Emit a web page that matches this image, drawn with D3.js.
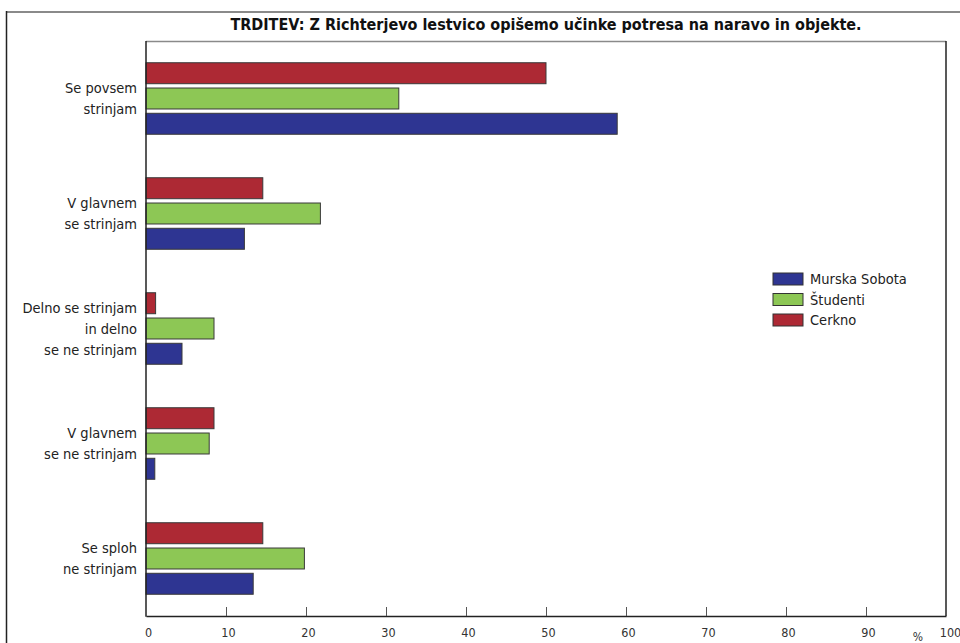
<!DOCTYPE html>
<html>
<head>
<meta charset="utf-8">
<script src="https://cdn.jsdelivr.net/npm/d3@7"></script>
<style>
  html, body { margin: 0; padding: 0; background: #fff; }
  svg { display: block; }
  text { font-family: "DejaVu Sans Condensed", "Liberation Sans Narrow", "Roboto", sans-serif; }
</style>
</head>
<body>
<script>
// Survey answers (top to bottom) and share of respondents, %
const categories = [
  ["Se povsem", "strinjam"],
  ["V glavnem", "se strinjam"],
  ["Delno se strinjam", "in delno", "se ne strinjam"],
  ["V glavnem", "se ne strinjam"],
  ["Se sploh", "ne strinjam"]
];
const seriesNames = ["Cerkno", "Študenti", "Murska Sobota"];
const cerkno       = [50.0, 14.6, 1.2, 8.5, 14.6];
const studenti     = [31.6, 21.8, 8.5, 7.9, 19.8];
const murskaSobota = [58.9, 12.3, 4.5, 1.1, 13.4];
const tickValues = [0, 10, 20, 30, 40, 50, 60, 70, 80, 90, 100];
const legendOrder = ["Murska Sobota", "Študenti", "Cerkno"];
const title = "TRDITEV: Z Richterjevo lestvico opišemo učinke potresa na naravo in objekte.";

const colors = { "Cerkno": "#ad2934", "Študenti": "#8dc755", "Murska Sobota": "#2e3592" };
const valuesBySeries = { "Cerkno": cerkno, "Študenti": studenti, "Murska Sobota": murskaSobota };

const W = 960, H = 643;
const plot = { left: 146, right: 946, top: 41, bottom: 616 };

const svg = d3.select("body").append("svg").attr("width", W).attr("height", H);

// outer frame
svg.append("line").attr("x1", 6).attr("x2", W).attr("y1", 12).attr("y2", 12)
  .attr("stroke", "#8a8a8a").attr("stroke-width", 2);
svg.append("line").attr("x1", 6.5).attr("x2", 6.5).attr("y1", 11).attr("y2", H)
  .attr("stroke", "#222").attr("stroke-width", 1.5);

svg.append("text").attr("x", 546).attr("y", 30).attr("text-anchor", "middle")
  .attr("font-size", 16).attr("font-weight", "bold").attr("fill", "#111")
  .text(title);

const x = d3.scaleLinear().domain([0, 100]).range([plot.left, plot.right]);
const idx = d3.range(categories.length);
const y0 = d3.scaleBand().domain(idx).range([plot.top, plot.bottom]).paddingInner(0).paddingOuter(0);
const y1 = d3.scaleBand().domain(seriesNames).range([0, y0.bandwidth()]).paddingInner(0.17).paddingOuter(0.86);

// plot frame
svg.append("line").attr("x1", plot.left).attr("x2", plot.right).attr("y1", plot.top + 0.5).attr("y2", plot.top + 0.5)
  .attr("stroke", "#8a8a8a").attr("stroke-width", 1.5);
svg.append("line").attr("x1", plot.right).attr("x2", plot.right).attr("y1", plot.top).attr("y2", plot.bottom)
  .attr("stroke", "#222").attr("stroke-width", 1.5);

// bars
const groups = svg.append("g").selectAll("g").data(idx).join("g")
  .attr("transform", i => `translate(0,${y0(i)})`);
groups.selectAll("rect")
  .data(i => seriesNames.map(s => ({ s, v: valuesBySeries[s][i] })))
  .join("rect")
  .attr("x", x(0))
  .attr("y", d => y1(d.s))
  .attr("width", d => x(d.v) - x(0))
  .attr("height", y1.bandwidth())
  .attr("fill", d => colors[d.s])
  .attr("stroke", "#3a3a3a").attr("stroke-width", 1);

// category labels
const lineH = 21;
svg.append("g").selectAll("text").data(idx).join("text")
  .attr("text-anchor", "end").attr("font-size", 14.5).attr("fill", "#222")
  .attr("transform", i => `translate(137,${y0(i) + y0.bandwidth() / 2})`)
  .each(function (i) {
    const lines = categories[i];
    const t = d3.select(this);
    lines.forEach((ln, k) => {
      t.append("tspan").attr("x", 0)
        .attr("y", (k - (lines.length - 1) / 2) * lineH)
        .attr("dy", "0.35em").text(ln);
    });
  });

// x axis
const xAxis = d3.axisBottom(x).tickValues(tickValues).tickSize(0).tickPadding(12);
const ax = svg.append("g").attr("transform", `translate(0,${plot.bottom})`).call(xAxis);
ax.select(".domain").attr("stroke", "#222").attr("stroke-width", 1.5);
ax.selectAll(".tick text").attr("font-size", 12.5).attr("fill", "#333")
  .attr("font-family", "'DejaVu Sans Condensed', sans-serif")
  .attr("dx", d => d === 100 ? 4 : 2);
ax.selectAll(".tick").filter(d => d > 0 && d < 100).append("line")
  .attr("y1", 0).attr("y2", -9).attr("stroke", "#555").attr("stroke-width", 1);
svg.append("text").attr("x", 918).attr("y", 641).attr("text-anchor", "middle")
  .attr("font-size", 12).attr("fill", "#333").text("%");

// y axis line
svg.append("line").attr("x1", plot.left).attr("x2", plot.left).attr("y1", plot.top).attr("y2", plot.bottom + 0.75)
  .attr("stroke", "#222").attr("stroke-width", 1.5);

// legend
const lg = svg.append("g").attr("transform", "translate(773,273)");
const lr = lg.selectAll("g").data(legendOrder).join("g")
  .attr("transform", (d, k) => `translate(0,${k * 20.5})`);
lr.append("rect").attr("width", 30).attr("height", 12)
  .attr("fill", d => colors[d]).attr("stroke", "#333").attr("stroke-width", 1);
lr.append("text").attr("x", 37).attr("y", 6).attr("dy", "0.35em")
  .attr("font-size", 14.5).attr("fill", "#222").text(d => d);
</script>
</body>
</html>
